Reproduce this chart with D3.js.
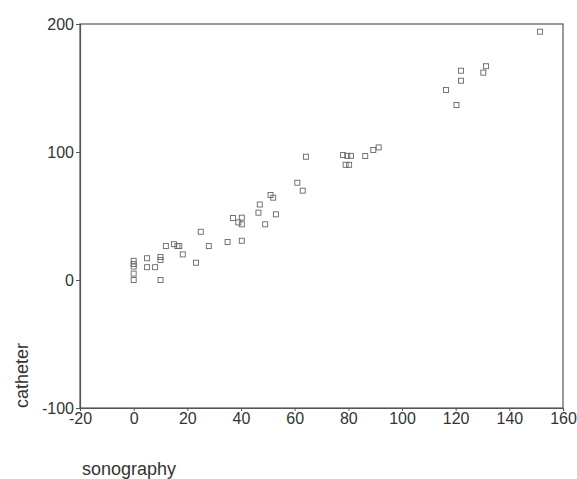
<!DOCTYPE html>
<html>
<head>
<meta charset="utf-8">
<script src="https://cdn.jsdelivr.net/npm/d3@7"></script>
<style>
  body { margin: 0; background: #fff; }
  text { font-family: Arial, "Liberation Sans", sans-serif; fill: #333; }
</style>
</head>
<body>
<div id="chart"></div>
<script>
// sonography (x) vs catheter (y)
const sonography = [0, 0, 0, 0, 0, 5, 5, 8, 10, 10, 10, 12, 15, 16.3, 17, 18.3, 23.2, 25, 28, 35,
  37, 39, 40.3, 40.3, 40.3, 46.5, 47, 49, 51, 52, 53, 61, 63, 64.2, 78, 79.6, 81, 79, 80.3,
  86.3, 89.3, 91.3, 116.4, 120.3, 122, 122, 130.3, 131.3, 151.4];
const catheter = [15, 12.5, 10.5, 5, 0, 17, 10, 10, 18, 15.6, 0, 26.5, 28, 26.5, 26.5, 20, 13.5, 37.7, 26.5, 29.7,
  48.4, 45, 48.7, 43.5, 30.7, 52.6, 59, 43.5, 66.4, 64.3, 51.3, 76, 69.8, 96.3, 97.6, 97, 97, 90, 90,
  96.9, 101.6, 103.6, 148.4, 136.7, 163.5, 155.7, 162, 167, 194];
const xTicks = [-20, 0, 20, 40, 60, 80, 100, 120, 140, 160];
const yTicks = [-100, 0, 100, 200];

const width = 577, height = 479;
const margin = {top: 24, right: 14, bottom: 71, left: 80};

const svg = d3.select("#chart").append("svg")
    .attr("width", width)
    .attr("height", height);

const x = d3.scaleLinear().domain([-20, 160]).range([margin.left, width - margin.right]);
const y = d3.scaleLinear().domain([-100, 200]).range([height - margin.bottom, margin.top]);

// frame around the plot area
svg.append("rect")
    .attr("x", x(-20))
    .attr("y", y(200))
    .attr("width", x(160) - x(-20))
    .attr("height", y(-100) - y(200))
    .attr("fill", "none")
    .attr("stroke", "#555")
    .attr("stroke-width", 1.2);

// plain hyphen for negatives, like the original
const fmt = d => String(d);
const xAxis = d3.axisBottom(x).tickValues(xTicks).tickFormat(fmt).tickSize(3).tickPadding(2);
const yAxis = d3.axisLeft(y).tickValues(yTicks).tickFormat(fmt).tickSize(4).tickPadding(2);

const xg = svg.append("g")
    .attr("transform", `translate(0,${y(-100)})`)
    .call(xAxis);
const yg = svg.append("g")
    .attr("transform", `translate(${x(-20)},0)`)
    .call(yAxis);

[xg, yg].forEach(g => {
    g.select(".domain").attr("stroke", "#555").attr("stroke-width", 1.2);
    g.selectAll(".tick line").attr("stroke", "#555");
    g.selectAll(".tick text")
        .attr("font-size", 16)
        .attr("fill", "#333");
});
yg.selectAll(".tick text").attr("dy", "0.35em");

// points: small hollow squares
const pts = d3.zip(sonography, catheter);
svg.append("g")
    .selectAll("rect")
    .data(pts)
    .join("rect")
    .attr("x", d => x(d[0]) - 2.5)
    .attr("y", d => y(d[1]) - 2.5)
    .attr("width", 5)
    .attr("height", 5)
    .attr("fill", "none")
    .attr("stroke", "#666")
    .attr("stroke-width", 0.9);

// axis titles
svg.append("text")
    .attr("x", 82)
    .attr("y", 475)
    .attr("font-size", 18)
    .text("sonography");

svg.append("text")
    .attr("transform", `translate(28,${y(-100)}) rotate(-90)`)
    .attr("font-size", 18)
    .text("catheter");
</script>
</body>
</html>
